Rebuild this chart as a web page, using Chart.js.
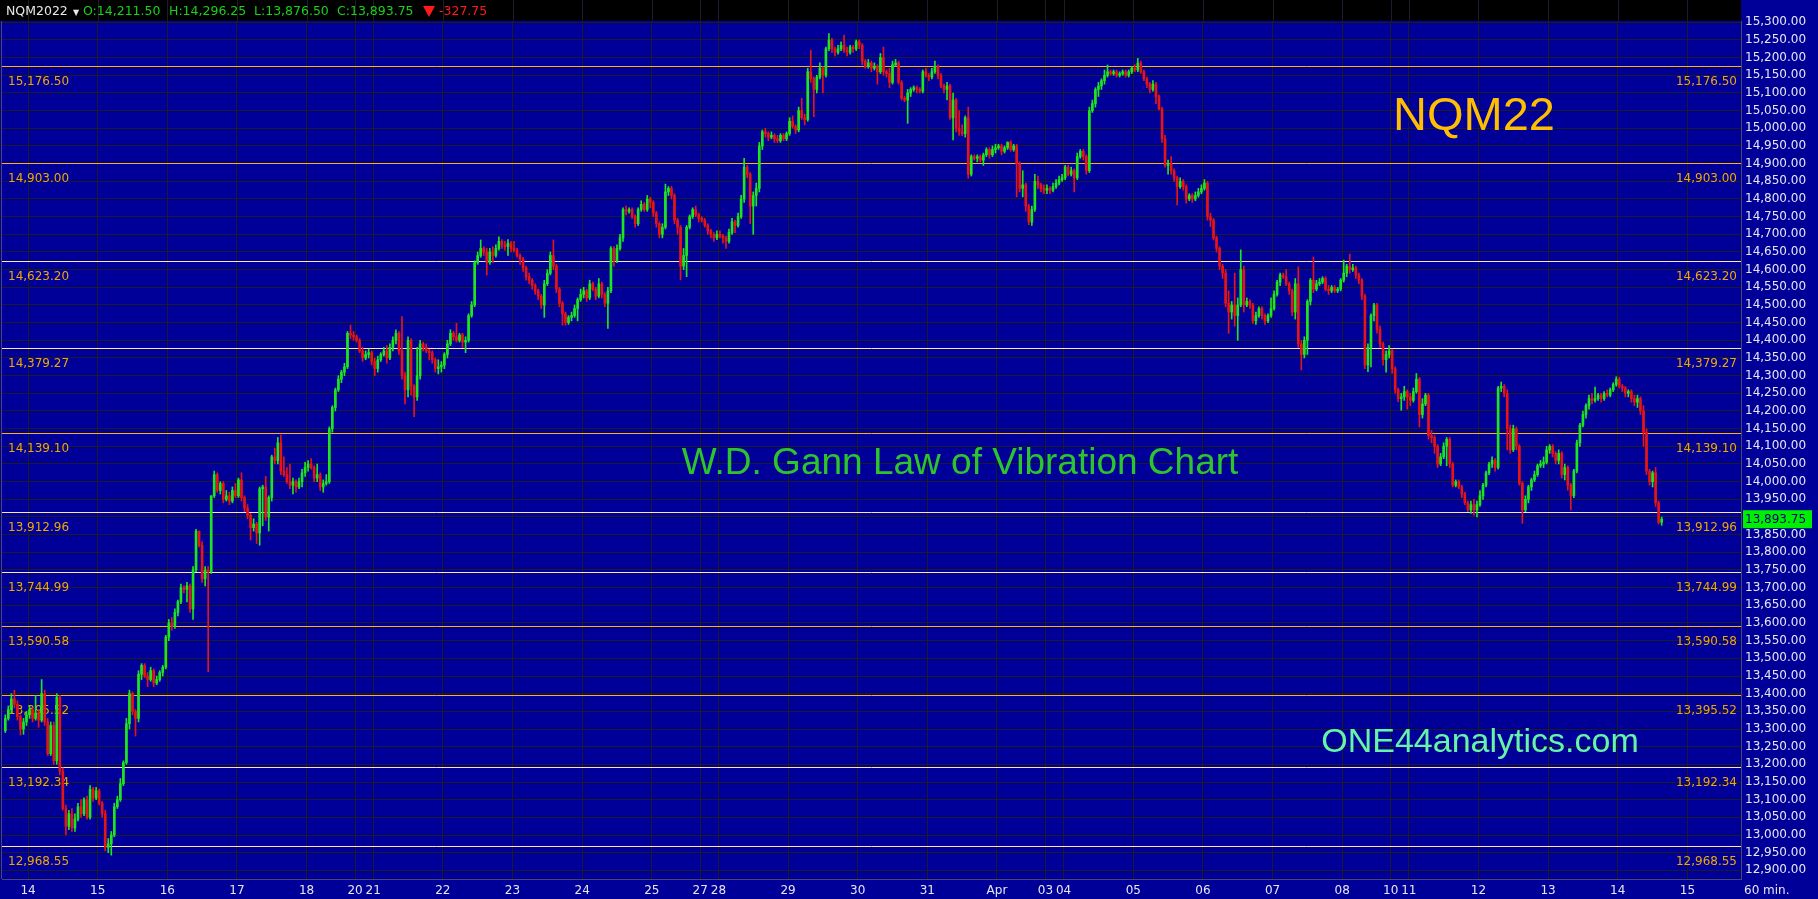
<!DOCTYPE html>
<html>
<head>
<meta charset="utf-8">
<title>NQM22 - W.D. Gann Law of Vibration Chart</title>
<script src="https://cdn.jsdelivr.net/npm/chart.js@4.4.1/dist/chart.umd.min.js"></script>
<style>
  html, body { margin: 0; padding: 0; background: #000099; }
  #wrap { width: 1818px; height: 899px; }
</style>
</head>
<body>
<div id="wrap"><canvas id="chart" width="1818" height="899"></canvas></div>
<script>
// 60 min bars, NQM2022, Sun 13 Mar evening -> Thu 14 Apr
// open of each bar = close of the bar before
const firstBar = -8;
const firstOpen = 13295;

const closes = [
  13330, 13355, 13385, 13370, 13335, 13300, 13320, 13340, // sun 13 eve
  13355, 13330, 13345, 13325, 13400, 13320, 13230, 13310, 13210, 13390, 13180, 13075, 13025, 13060, 13020, 13045, 13080, 13060, 13100, 13050, 13130, 13105, 13125, // 14
  13090, 13060, 12965, 12975, 13000, 13080, 13100, 13145, 13205, 13315, 13400, 13350, 13330, 13455, 13480, 13450, 13440, 13465, 13430, 13440, 13460, 13475, 13560, // 15
  13600, 13590, 13630, 13660, 13700, 13695, 13705, 13640, 13750, 13860, 13820, 13725, 13750, 13745, 13960, 14020, 13975, 13995, 13950, 13960, 13945, 13975, 13960, // 16
  14005, 13955, 13925, 13905, 13870, 13880, 13855, 13980, 13985, 13900, 13955, 14070, 14060, 14110, 14030, 14020, 14000, 13990, 14000, 13985, 14000, 14025, 14040, // 17
  14050, 14040, 14010, 14020, 13985, 13995, 14000, 14150, 14210, 14260, 14290, 14310, 14325, 14420, 14415, 14410, // 18
  14400, 14370, 14350, 14360, 14365, 14340, // 20
  14320, 14345, 14360, 14370, 14350, 14380, 14400, 14420, 14370, 14300, 14260, 14400, 14270, 14240, 14300, 14390, 14380, 14370, 14365, 14345, 14320, 14325, 14330, // 21
  14360, 14390, 14420, 14410, 14400, 14415, 14395, 14400, 14470, 14500, 14620, 14640, 14660, 14650, 14620, 14650, 14640, 14660, 14680, 14670, 14665, 14675, 14660, // 22
  14655, 14640, 14630, 14605, 14580, 14570, 14555, 14540, 14525, 14500, 14560, 14590, 14640, 14610, 14545, 14505, 14475, 14450, 14465, 14470, 14490, 14515, 14530, // 23
  14540, 14520, 14560, 14545, 14525, 14560, 14530, 14505, 14540, 14660, 14625, 14660, 14690, 14770, 14765, 14770, 14750, 14730, 14770, 14785, 14770, 14800, 14790, // 24
  14760, 14730, 14700, 14720, 14820, 14830, 14810, 14740, 14720, 14610, 14640, 14720, 14750, 14770, 14755, 14745, // 25
  14740, 14725, 14710, 14700, 14690, 14700, // 27
  14695, 14690, 14680, 14705, 14735, 14725, 14750, 14800, 14890, 14870, 14780, 14810, 14830, 14950, 14990, 14985, 14975, 14980, 14970, 14965, 14980, 14970, 14985, // 28
  15020, 15005, 14995, 15050, 15030, 15025, 15160, 15140, 15110, 15145, 15170, 15150, 15225, 15250, 15225, 15215, 15225, 15235, 15220, 15215, 15230, 15225, 15245, // 29
  15235, 15190, 15175, 15185, 15170, 15175, 15160, 15200, 15160, 15155, 15130, 15180, 15185, 15130, 15085, 15080, 15100, 15110, 15115, 15110, 15105, 15160, 15150, // 30
  15145, 15160, 15175, 15150, 15120, 15110, 15120, 15030, 15080, 15000, 14990, 14985, 15030, 14870, 14920, 14915, 14920, 14910, 14925, 14940, 14925, 14940, 14945, // 31
  14950, 14935, 14945, 14960, 14940, 14950, 14900, 14830, 14840, 14780, 14735, 14770, 14850, 14840, 14830, 14825, // apr 1
  14830, 14825, 14835, 14845, 14855, 14860, // 03
  14890, 14870, 14880, 14860, 14920, 14935, 14920, 14880, 15050, 15070, 15110, 15120, 15135, 15150, 15160, 15155, 15160, 15150, 15155, 15160, 15150, 15160, 15170, // 04
  15165, 15185, 15160, 15140, 15125, 15110, 15125, 15090, 15055, 14970, 14895, 14900, 14880, 14860, 14835, 14850, 14835, 14800, 14810, 14800, 14810, 14820, 14830, // 05
  14845, 14750, 14740, 14690, 14660, 14610, 14590, 14505, 14480, 14500, 14470, 14500, 14600, 14500, 14510, 14500, 14455, 14470, 14490, 14470, 14455, 14470, 14490, // 06
  14530, 14565, 14585, 14580, 14560, 14540, 14480, 14560, 14390, 14360, 14400, 14510, 14570, 14545, 14560, 14565, 14575, 14545, 14540, 14550, 14540, 14545, 14570, // 07
  14590, 14610, 14600, 14605, 14585, 14570, 14525, 14330, 14380, 14470, 14500, 14430, 14390, 14345, 14360, 14370, // 08
  14320, 14260, 14235, 14240, 14255, 14240, // 10
  14230, 14255, 14290, 14190, 14220, 14245, 14130, 14125, 14100, 14050, 14070, 14100, 14120, 14050, 13990, 14000, 13985, 13965, 13940, 13920, 13935, 13920, 13935, // 11
  13960, 13990, 14025, 14050, 14060, 14040, 14265, 14270, 14250, 14150, 14090, 14150, 14100, 13995, 13920, 13950, 13985, 14005, 14020, 14045, 14050, 14055, 14090, // 12
  14100, 14080, 14060, 14080, 14020, 14040, 13990, 13960, 14030, 14110, 14160, 14190, 14215, 14235, 14230, 14235, 14245, 14235, 14250, 14245, 14260, 14275, 14290, // 13
  14270, 14265, 14250, 14255, 14235, 14225, 14235, 14200, 14140, 14030, 14000, 14025, 13940, 13885, 13893.75 // 14
];

const highs = [
  13340, 13365, 13400, 13410, 13380, 13340, 13330, 13350,
  13365, 13360, 13395, 13355, 13440, 13410, 13330, 13320, 13320, 13400, 13395, 13190, 13085, 13070, 13075, 13060, 13090, 13100, 13105, 13110, 13140, 13135, 13135,
  13130, 13095, 13070, 12990, 13010, 13090, 13110, 13160, 13210, 13330, 13410, 13405, 13355, 13465, 13485, 13485, 13460, 13475, 13470, 13450, 13465, 13480, 13565,
  13610, 13615, 13640, 13665, 13710, 13705, 13715, 13710, 13760, 13865, 13860, 13830, 13760, 13760, 13960, 14030, 14025, 14000, 14000, 13975, 13970, 13985, 13995,
  14010, 14025, 13960, 13935, 13910, 13895, 13885, 13985, 13990, 14015, 13960, 14075, 14095, 14125, 14132, 14070, 14040, 14050, 14010, 14005, 14010, 14035, 14055,
  14060, 14065, 14045, 14050, 14025, 14005, 14020, 14155, 14215, 14265, 14300, 14315, 14335, 14425, 14443, 14425,
  14415, 14405, 14380, 14370, 14375, 14370,
  14350, 14355, 14365, 14380, 14385, 14390, 14410, 14430, 14425, 14467, 14310, 14410, 14405, 14275, 14380, 14400, 14395, 14390, 14375, 14370, 14350, 14345, 14340,
  14365, 14400, 14430, 14425, 14448, 14420, 14420, 14410, 14475, 14510, 14625, 14650, 14684, 14665, 14660, 14660, 14665, 14670, 14693, 14685, 14680, 14685, 14680,
  14680, 14660, 14645, 14635, 14610, 14590, 14575, 14560, 14545, 14530, 14570, 14600, 14650, 14684, 14615, 14550, 14510, 14480, 14470, 14480, 14500, 14520, 14545,
  14550, 14545, 14570, 14565, 14550, 14575, 14565, 14535, 14550, 14665, 14665, 14670, 14700, 14775, 14780, 14775, 14775, 14755, 14775, 14795, 14790, 14810, 14805,
  14795, 14765, 14735, 14730, 14842, 14835, 14836, 14815, 14745, 14725, 14660, 14725, 14755, 14775, 14780, 14760,
  14750, 14745, 14730, 14715, 14705, 14710,
  14710, 14700, 14695, 14715, 14745, 14740, 14760, 14810, 14915, 14895, 14875, 14820, 14845, 14960, 14995, 15000, 14990, 14990, 14985, 14980, 14985, 14985, 14990,
  15030, 15035, 15010, 15060, 15085, 15040, 15170, 15221, 15145, 15150, 15185, 15175, 15230, 15268, 15255, 15230, 15235, 15245, 15264, 15230, 15235, 15235, 15250,
  15250, 15240, 15195, 15195, 15190, 15185, 15180, 15212, 15230, 15165, 15170, 15190, 15195, 15190, 15135, 15090, 15110, 15115, 15120, 15120, 15115, 15165, 15170,
  15155, 15170, 15190, 15180, 15155, 15125, 15130, 15125, 15100, 15085, 15050, 15010, 15035, 15060, 14925, 14925, 14925, 14925, 14930, 14945, 14945, 14950, 14955,
  14955, 14955, 14950, 14962, 14965, 14955, 14955, 14905, 14880, 14845, 14785, 14780, 14870, 14865, 14845, 14840,
  14840, 14835, 14845, 14855, 14865, 14870,
  14895, 14895, 14890, 14885, 14930, 14940, 14940, 14925, 15060, 15080, 15115, 15130, 15140, 15165, 15179, 15165, 15165, 15165, 15160, 15165, 15165, 15165, 15175,
  15180, 15198, 15190, 15165, 15145, 15130, 15135, 15130, 15095, 15060, 14980, 14910, 14920, 14885, 14865, 14860, 14855, 14840, 14815, 14815, 14820, 14830, 14840,
  14855, 14850, 14760, 14745, 14695, 14665, 14615, 14600, 14540, 14510, 14590, 14520, 14656, 14610, 14520, 14515, 14505, 14480, 14495, 14495, 14475, 14475, 14520,
  14540, 14570, 14590, 14590, 14600, 14565, 14545, 14575, 14608, 14400, 14410, 14515, 14575, 14636, 14570, 14575, 14580, 14580, 14555, 14555, 14555, 14550, 14575,
  14627, 14615, 14644, 14615, 14610, 14590, 14575, 14530, 14390, 14475, 14505, 14505, 14440, 14395, 14370, 14385,
  14375, 14325, 14265, 14250, 14270, 14260,
  14250, 14265, 14306, 14295, 14235, 14250, 14250, 14145, 14130, 14105, 14080, 14110, 14125, 14125, 14055, 14005, 14005, 13990, 13970, 13945, 13945, 13950, 13945,
  13975, 13995, 14030, 14055, 14070, 14065, 14270, 14282, 14275, 14260, 14160, 14160, 14155, 14105, 14000, 13960, 13990, 14010, 14030, 14050, 14060, 14070, 14100,
  14105, 14105, 14085, 14090, 14085, 14050, 14045, 13995, 14035, 14118, 14165, 14200, 14220, 14245, 14250, 14268, 14250, 14250, 14255, 14260, 14265, 14280, 14297,
  14296, 14275, 14270, 14260, 14260, 14245, 14245, 14240, 14215, 14150, 14035, 14030, 14040, 13945, 13900
];

const lows = [
  13290, 13325, 13345, 13360, 13325, 13283, 13285, 13310,
  13330, 13320, 13325, 13305, 13320, 13310, 13225, 13225, 13200, 13200, 13170, 13070, 13000, 13015, 13010, 13010, 13040, 13050, 13055, 13045, 13045, 13095, 13100,
  13085, 13050, 12955, 12950, 12943, 12995, 13075, 13095, 13140, 13200, 13300, 13340, 13280, 13320, 13440, 13445, 13420, 13435, 13420, 13425, 13435, 13450, 13470,
  13550, 13580, 13585, 13620, 13655, 13685, 13660, 13630, 13610, 13745, 13815, 13715, 13705, 13462, 13740, 13955, 13970, 13965, 13940, 13945, 13935, 13940, 13955,
  13955, 13945, 13915, 13895, 13835, 13860, 13825, 13820, 13875, 13890, 13860, 13945, 14050, 14050, 14020, 14015, 13995, 13980, 13965, 13970, 13980, 13985, 14015,
  14030, 14035, 14000, 14000, 13975, 13970, 13990, 13995, 14140, 14200, 14255, 14280, 14300, 14320, 14405, 14400,
  14395, 14365, 14340, 14345, 14350, 14330,
  14300, 14310, 14340, 14355, 14335, 14345, 14370, 14390, 14360, 14290, 14220, 14240, 14245, 14184, 14230, 14290, 14370, 14365, 14345, 14335, 14310, 14305, 14310,
  14320, 14350, 14385, 14400, 14395, 14395, 14380, 14365, 14395, 14465, 14495, 14615, 14635, 14640, 14585, 14615, 14620, 14635, 14655, 14660, 14655, 14640, 14650,
  14650, 14635, 14615, 14595, 14570, 14560, 14545, 14530, 14515, 14490, 14465, 14555, 14585, 14600, 14535, 14495, 14443, 14443, 14445, 14455, 14465, 14455, 14510,
  14520, 14510, 14515, 14540, 14515, 14520, 14520, 14495, 14434, 14535, 14610, 14620, 14655, 14680, 14755, 14760, 14745, 14720, 14725, 14765, 14765, 14765, 14775,
  14750, 14720, 14690, 14690, 14715, 14810, 14800, 14730, 14700, 14571, 14600, 14580, 14715, 14745, 14750, 14735,
  14735, 14720, 14700, 14690, 14680, 14685,
  14690, 14675, 14660, 14675, 14700, 14705, 14720, 14745, 14790, 14860, 14730, 14700, 14780, 14820, 14940, 14975, 14965, 14970, 14960, 14960, 14960, 14965, 14965,
  14980, 15000, 14985, 14990, 15025, 15010, 15020, 15130, 15033, 15100, 15140, 15100, 15145, 15220, 15215, 15205, 15210, 15220, 15215, 15205, 15210, 15215, 15220,
  15225, 15180, 15170, 15170, 15160, 15165, 15125, 15155, 15150, 15145, 15115, 15125, 15175, 15125, 15080, 15075, 15014, 15090, 15105, 15100, 15100, 15100, 15145,
  15135, 15140, 15155, 15140, 15115, 15100, 15080, 15025, 14967, 14990, 14980, 14979, 14975, 14859, 14865, 14910, 14905, 14905, 14895, 14920, 14915, 14920, 14930,
  14940, 14925, 14930, 14940, 14935, 14935, 14806, 14820, 14806, 14765, 14727, 14725, 14765, 14830, 14820, 14815,
  14815, 14815, 14820, 14830, 14840, 14850,
  14855, 14865, 14865, 14820, 14855, 14915, 14910, 14870, 14875, 15045, 15060, 15090, 15110, 15125, 15145, 15150, 15150, 15145, 15145, 15150, 15145, 15145, 15155,
  15160, 15160, 15155, 15135, 15115, 15100, 15105, 15070, 15052, 14960, 14890, 14870, 14870, 14850, 14783, 14830, 14825, 14788, 14795, 14790, 14795, 14805, 14815,
  14825, 14740, 14722, 14684, 14650, 14600, 14575, 14495, 14420, 14460, 14440, 14400, 14495, 14480, 14495, 14490, 14448, 14445, 14465, 14460, 14445, 14450, 14465,
  14485, 14525, 14555, 14575, 14555, 14530, 14470, 14460, 14380, 14316, 14350, 14360, 14500, 14535, 14540, 14555, 14560, 14540, 14530, 14535, 14535, 14535, 14540,
  14565, 14580, 14590, 14595, 14575, 14560, 14515, 14320, 14311, 14325, 14455, 14420, 14380, 14330, 14310, 14350,
  14306, 14250, 14226, 14202, 14230, 14205,
  14215, 14225, 14250, 14155, 14180, 14215, 14120, 14110, 14080, 14040, 14045, 14065, 14045, 14040, 13985, 13985, 13980, 13955, 13935, 13915, 13910, 13905, 13900,
  13930, 13950, 13985, 14020, 14040, 14030, 14035, 14255, 14240, 14090, 14080, 14085, 14090, 13990, 13882, 13915, 13940, 13975, 14000, 14015, 14040, 14040, 14050,
  14080, 14070, 14050, 14050, 14010, 14005, 13976, 13920, 13955, 14025, 14100, 14155, 14180, 14205, 14220, 14225, 14230, 14225, 14230, 14240, 14240, 14255, 14270,
  14265, 14255, 14240, 14240, 14225, 14215, 14210, 14190, 14100, 14020, 13990, 13985, 13930, 13880, 13876.5
];

// session starts (bar index) and their labels on the time axis
const dayStarts = [0, 23, 46, 69, 92, 108, 114, 137, 160, 183, 206, 222, 228, 251, 274, 297, 320, 336, 342, 365, 388, 411, 434, 450, 456, 479, 502, 525, 548];
const dayLabels = ['14', '15', '16', '17', '18', '20', '21', '22', '23', '24', '25', '27', '28', '29', '30', '31', 'Apr', '03', '04', '05', '06', '07', '08', '10', '11', '12', '13', '14', '15'];

// Gann vibration levels
const gannLevels = [15176.50, 14903.00, 14623.20, 14379.27, 14139.10, 13912.96, 13744.99, 13590.58, 13395.52, 13192.34, 12968.55];
const gannStrong = [true, true, false, false, true, false, false, true, true, false, false];

const sessionOpen = 14211.50, sessionHigh = 14296.25, sessionLow = 13876.50, sessionChange = -327.75;

const UP = '#1ee61e', DOWN = '#e61414';
const GRID = '#1c1c24';
const BG = '#000099';

const opens = closes.map((c, i) => i === 0 ? firstOpen : closes[i - 1]);
const barColors = closes.map((c, i) => c >= opens[i] ? UP : DOWN);
const bodies = closes.map((c, i) => ({ x: firstBar + i, y: [opens[i], c] }));
const wicks = closes.map((c, i) => ({ x: firstBar + i, y: [Math.min(lows[i], opens[i], c), Math.max(highs[i], opens[i], c)] }));
const lastClose = closes[closes.length - 1];

const fmt = v => v.toLocaleString('en-US', { minimumFractionDigits: 2, maximumFractionDigits: 2 });

const backdrop = {
  id: 'backdrop',
  beforeDraw(chart) {
    const c = chart.ctx, a = chart.chartArea;
    c.save();
    c.fillStyle = BG;
    c.fillRect(0, 0, chart.width, chart.height);
    // header strip
    c.fillStyle = '#000000';
    c.fillRect(0, 0, a.right, a.top);
    c.strokeStyle = '#1c1c2a';
    c.lineWidth = 1;
    chart.scales.x.ticks.forEach(t => {
      const x = Math.round(chart.scales.x.getPixelForValue(t.value)) + 0.5;
      c.beginPath(); c.moveTo(x, 0); c.lineTo(x, a.top); c.stroke();
    });
    c.restore();
  },
  beforeDatasetsDraw(chart) {
    const c = chart.ctx, a = chart.chartArea, y = chart.scales.y;
    c.save();
    c.strokeStyle = '#4a4a66';
    c.beginPath(); c.moveTo(1.5, a.top); c.lineTo(1.5, a.bottom); c.stroke();
    c.font = '12px "DejaVu Sans"';
    c.textBaseline = 'middle';
    gannLevels.forEach((lv, i) => {
      const py = Math.round(y.getPixelForValue(lv)) + 0.5;
      c.strokeStyle = gannStrong[i] ? '#ffb400' : '#ffe6b4';
      c.lineWidth = 1;
      c.beginPath(); c.moveTo(a.left, py); c.lineTo(a.right, py); c.stroke();
      c.fillStyle = '#f0a800';
      c.textAlign = 'left';
      c.fillText(fmt(lv), 8, py + 15);
      c.textAlign = 'right';
      c.fillText(fmt(lv), a.right - 4, py + 15);
    });
    c.restore();
  },
  afterDraw(chart) {
    const c = chart.ctx, y = chart.scales.y;
    c.save();
    // header quote line
    c.font = '12.5px "DejaVu Sans"';
    c.textBaseline = 'middle';
    c.textAlign = 'left';
    c.fillStyle = '#e8e8e8';
    c.fillText('NQM2022', 6, 12);
    c.font = '8px "DejaVu Sans"';
    c.fillText('\u25BC', 73, 13);
    c.font = '12.5px "DejaVu Sans"';
    c.fillStyle = '#19d219';
    c.fillText('O:' + fmt(sessionOpen), 83, 12);
    c.fillText('H:' + fmt(sessionHigh), 169, 12);
    c.fillText('L:' + fmt(sessionLow), 254, 12);
    c.fillText('C:' + fmt(lastClose), 337, 12);
    c.fillStyle = '#ff1a1a';
    c.beginPath(); c.moveTo(423, 6); c.lineTo(435, 6); c.lineTo(429, 17); c.closePath(); c.fill();
    c.fillText(fmt(sessionChange), 439, 12);

    // titles
    c.textAlign = 'center';
    c.fillStyle = '#ffbf00';
    c.font = '47px "Liberation Sans", Arial, sans-serif';
    c.fillText('NQM22', 1474, 117);
    c.fillStyle = '#2ec42e';
    c.font = '37px "Liberation Sans", Arial, sans-serif';
    c.fillText('W.D. Gann Law of Vibration Chart', 960, 464);
    c.fillStyle = '#66f5a8';
    c.font = '34px "Liberation Sans", Arial, sans-serif';
    c.fillText('ONE44analytics.com', 1480, 743);

    // last price tag
    const py = y.getPixelForValue(lastClose);
    c.fillStyle = '#00ee00';
    c.fillRect(1743, py - 9, 69, 18);
    c.fillStyle = '#000080';
    c.textAlign = 'left';
    c.font = '12px "DejaVu Sans"';
    c.fillText(fmt(lastClose), 1745, py + 1);

    c.fillStyle = '#e6e6f0';
    c.fillText('60 min.', 1744, 891);
    c.restore();
  }
};

new Chart(document.getElementById('chart').getContext('2d'), {
  type: 'bar',
  data: {
    datasets: [
      { data: wicks, backgroundColor: barColors, barThickness: 1, grouped: false, order: 2 },
      { data: bodies, backgroundColor: barColors, barThickness: 2, minBarLength: 1, grouped: false, order: 1 }
    ]
  },
  options: {
    responsive: false,
    animation: false,
    devicePixelRatio: 1,
    layout: { padding: { left: 2, top: 21, right: 0, bottom: 0 } },
    plugins: { legend: { display: false }, tooltip: { enabled: false } },
    scales: {
      x: {
        type: 'linear',
        min: -9.09,
        max: 565.2,
        offset: false,
        grid: { color: GRID, offset: false, drawTicks: false },
        border: { color: '#4a4a66' },
        afterBuildTicks: s => { s.ticks = dayStarts.map(d => ({ value: d - 0.5 })); },
        afterFit: s => { s.height = 20; },
        ticks: {
          autoSkip: false,
          maxRotation: 0,
          padding: 5,
          color: '#e6e6f0',
          font: { family: 'DejaVu Sans', size: 12 },
          callback: (v, i) => dayLabels[i]
        }
      },
      y: {
        position: 'right',
        min: 12875.5,
        max: 15303.7,
        grid: { color: GRID, drawTicks: false },
        border: { color: '#4a4a66' },
        afterFit: s => { s.width = 77; },
        ticks: {
          stepSize: 50,
          includeBounds: false,
          padding: 4,
          color: '#e6e6f0',
          font: { family: 'DejaVu Sans', size: 12 },
          callback: v => fmt(v)
        }
      }
    }
  },
  plugins: [backdrop]
});
</script>
</body>
</html>
